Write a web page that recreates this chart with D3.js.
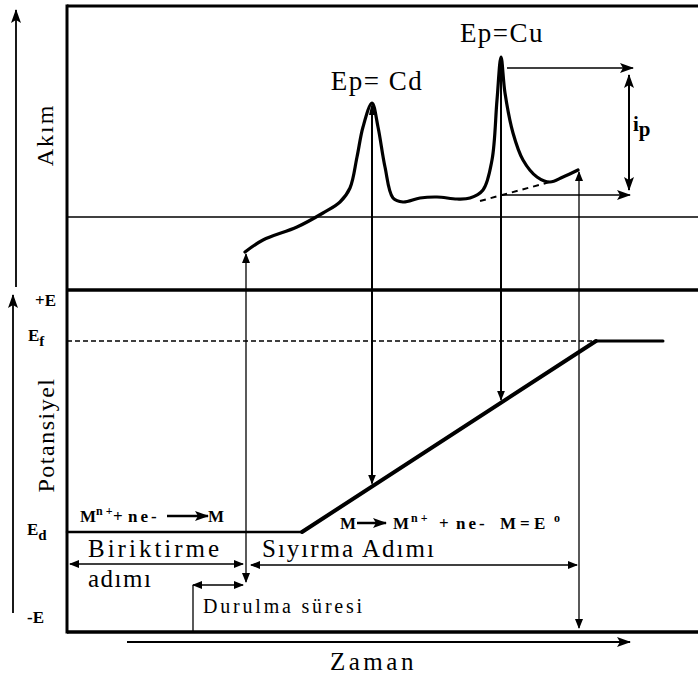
<!DOCTYPE html>
<html>
<head>
<meta charset="utf-8">
<script src="https://cdn.jsdelivr.net/npm/d3@7"></script>
<style>
  body { margin: 0; background: #fff; }
</style>
</head>
<body>
<div id="chart"></div>
<script>
// stripping current curve (time, current) - arbitrary units
const curveTime = [17.8, 19.6, 23.0, 25.6, 27.3, 28.3, 29.0, 29.6, 30.5, 31.1, 31.8, 32.6, 33.6, 35.3,
  37.0, 39.0, 40.3, 41.6, 42.5, 43.0, 43.4, 43.8, 44.6, 45.6, 47.0, 48.3, 49.6, 51.1];
const curveCurrent = [3.8, 5.0, 6.3, 7.7, 8.8, 10.2, 13.3, 16.3, 18.7, 16.3, 12.3, 9.2, 8.8, 9.2,
  9.3, 9.1, 9.2, 10.0, 13.0, 19.0, 23.3, 19.7, 15.7, 13.0, 11.3, 10.8, 11.3, 12.0];

// potential program (time, potential)
const potTime = [0, 23.5, 52.9, 59.6];
const potValue = [10, 10, 29.1, 29.1];

// peaks
const peakNames = ["Ep= Cd", "Ep=Cu"];
const peakTime = [30.5, 43.4];
const peakCurrent = [18.7, 23.3];

// potential levels on the left
const levelNames = ["+E", "Ef", "Ed", "-E"];
const levelValue = [34, 29.1, 10, 0];

// steps below the potential line
const phaseNames = ["Biriktirme", "Sıyırma Adımı", "Durulma süresi"];
const phaseStart = [0.3, 18.4, 12.6];
const phaseEnd = [17.6, 51.0, 17.6];

const width = 698, height = 677;

const x = d3.scaleLinear().domain([0, 63.1]).range([67, 698]);
const yI = d3.scaleLinear().domain([0, 28.4]).range([290, 6]);
const yE = d3.scaleLinear().domain([0, 34]).range([632, 292]);

const potAt = d3.scaleLinear().domain(potTime).range(potValue);

const svg = d3.select("#chart").append("svg")
  .attr("width", width)
  .attr("height", height);

// arrow heads
const defs = svg.append("defs");
defs.append("marker").attr("id", "arr")
  .attr("markerUnits", "userSpaceOnUse")
  .attr("markerWidth", 10).attr("markerHeight", 8)
  .attr("refX", 9).attr("refY", 4)
  .attr("orient", "auto-start-reverse")
  .append("path").attr("d", "M0,0L10,4L0,8Z");
defs.append("marker").attr("id", "arrBig")
  .attr("markerUnits", "userSpaceOnUse")
  .attr("markerWidth", 14).attr("markerHeight", 10)
  .attr("refX", 13).attr("refY", 5)
  .attr("orient", "auto-start-reverse")
  .append("path").attr("d", "M0,0L14,5L0,10L3,5Z");

function seg(x1, y1, x2, y2, w, start, end) {
  const l = svg.append("line")
    .attr("x1", x1).attr("y1", y1).attr("x2", x2).attr("y2", y2)
    .attr("stroke", "#000").attr("stroke-width", w);
  if (start) l.attr("marker-start", `url(#${start})`);
  if (end) l.attr("marker-end", `url(#${end})`);
  return l;
}

function label(px, py, size) {
  return svg.append("text")
    .attr("x", px).attr("y", py)
    .style("font-family", '"Liberation Serif"')
    .style("font-size", size + "px");
}

// frames
seg(x(0), yI(28.4), width, yI(28.4), 3);
seg(x(0), yI(28.4) - 1.5, x(0), yE(0) + 1.5, 3);
seg(x(0), yI(0), width, yI(0), 3.5);
seg(x(0), yE(0), width, yE(0), 3.5);
seg(x(0), yI(7.3), width, yI(7.3), 1.5);

// side axes
seg(x(-5.1), yI(0.3), x(-5.1), yI(28), 1.8, null, "arrBig");
seg(x(-5.4), yE(1.9), x(-5.4), yE(33.7), 1.8, null, "arrBig");
// time axis
seg(x(6), yE(-1), x(56.3), yE(-1), 2, null, "arrBig");

// level labels
const levelDx = [35, 28, 27, 27];
const levelDy = [14, 0, 3, -9];
levelNames.forEach((n, k) => {
  const t = label(levelDx[k], yE(levelValue[k]) + levelDy[k], 17).style("font-weight", "bold");
  t.append("tspan").text(n[0]);
  t.append("tspan").text(n[1]).attr("dy", n[1] === "E" ? 0 : 5)
    .style("font-size", n[1] === "E" ? "17px" : "15px");
});

// Ef dashed line
seg(x(0), yE(29.1), x(52.9), yE(29.1), 1.5).attr("stroke-dasharray", "5,3");

// potential program
const potWidth = [2.5, 4, 3];
for (let k = 0; k < potTime.length - 1; k++) {
  seg(x(potTime[k]), yE(potValue[k]), x(potTime[k + 1]), yE(potValue[k + 1]), potWidth[k])
    .attr("stroke-linecap", "round");
}

// dashed baseline under Cu peak
seg(x(41.3), yI(8.9), x(48.3), yI(10.8), 2).attr("stroke-dasharray", "6,5");

// current curve
const line = d3.line()
  .x((d, k) => x(curveTime[k]))
  .y((d, k) => yI(curveCurrent[k]))
  .curve(d3.curveCatmullRom.alpha(0.5));
svg.append("path")
  .attr("d", line(curveTime))
  .attr("fill", "none").attr("stroke", "#000").attr("stroke-width", 3.2)
  .attr("stroke-linecap", "round");

// peak projections onto the ramp
peakTime.forEach((t, k) => {
  seg(x(t), yI(peakCurrent[k]) + 6, x(t), yE(potAt(t)) - 3, 2, null, "arr");
  label(x(t) + (k === 0 ? 5 : 1), yI(peakCurrent[k]) - (k === 0 ? 13 : 15), 27)
    .attr("text-anchor", "middle").style("letter-spacing", "1.5px")
    .text(peakNames[k]);
});
// sharp tips of the peaks
peakTime.forEach((t, k) => {
  svg.append("path")
    .attr("d", `M${x(t) - 3},${yI(peakCurrent[k]) + 12}L${x(t)},${yI(peakCurrent[k]) - 1}L${x(t) + 3},${yI(peakCurrent[k]) + 12}Z`);
});

// start and end of the stripping scan
seg(x(17.9), yE(5.0), x(17.9), yI(3.6), 1.3, "arr", "arr");
seg(x(51.2), yE(0.4), x(51.2), yI(11.8), 1.3, "arr", "arr");

// ip
seg(x(44.0), yI(22.2), x(56.6), yI(22.2), 1.5, null, "arrBig");
seg(x(43.4), yI(9.5), x(56.3), yI(9.5), 1.5, null, "arrBig");
seg(x(56.2), yI(21.5), x(56.2), yI(10.0), 2, "arrBig", "arrBig");
const ip = label(x(56.6), yI(15.9), 21).style("font-weight", "bold");
ip.append("tspan").text("i");
ip.append("tspan").text("p").attr("dy", 5).style("font-size", "21px");

// phase arrows
const phaseLevel = [6.8, 6.7, 4.7];
phaseNames.forEach((n, k) => {
  seg(x(phaseStart[k]), yE(phaseLevel[k]), x(phaseEnd[k]), yE(phaseLevel[k]), 1.3, "arr", "arr");
});
seg(x(phaseStart[2]), yE(phaseLevel[2]), x(phaseStart[2]), yE(0), 1.3);

label(x(2.1), yE(7.5), 25).style("letter-spacing", "3px").text(phaseNames[0]);
label(x(2.1), yE(4.5), 25).style("letter-spacing", "1.5px").text("adımı");
label(x(19.5), yE(7.5), 25).style("letter-spacing", "2px").text(phaseNames[1]);
label(x(13.6), yE(1.9), 20).style("letter-spacing", "2.8px").text(phaseNames[2]);

// reactions: pieces [text, offset, raised]
function reaction(x0, base, pieces, arrowFrom, arrowTo) {
  const t = label(x0, base, 17).style("font-weight", "bold");
  pieces.forEach(p => {
    t.append("tspan").attr("x", x0 + p[1]).attr("y", base - (p[2] ? 7 : 0))
      .style("font-size", p[2] ? "12px" : "17px")
      .style("letter-spacing", p[0] === "ne-" ? "3px" : "0px")
      .text(p[0]);
  });
  seg(x0 + arrowFrom, base - 6, x0 + arrowTo, base - 6, 2.5, null, "arrBig");
}
reaction(x(1.3), yE(11), [["M", 0], ["n +", 16, true], ["+", 33], ["ne-", 48], ["M", 128]], 87, 128);
reaction(x(27.1), yE(10.3), [["M", 2], ["M", 55], ["n +", 73, true], ["+", 101], ["ne-", 118],
  ["M", 162], ["=", 182], ["E", 196], ["o", 216, true]], 19, 48);

// axis titles
label(0, 0, 24).attr("transform", `translate(53,${yI(15.5)}) rotate(-90)`)
  .attr("text-anchor", "middle").style("letter-spacing", "2px").text("Akım");
label(0, 0, 24).attr("transform", `translate(54,${yE(19.7)}) rotate(-90)`)
  .attr("text-anchor", "middle").style("letter-spacing", "1.5px").text("Potansiyel");
label(x(26.3), 670, 25).style("letter-spacing", "3.5px").text("Zaman");
</script>
</body>
</html>
